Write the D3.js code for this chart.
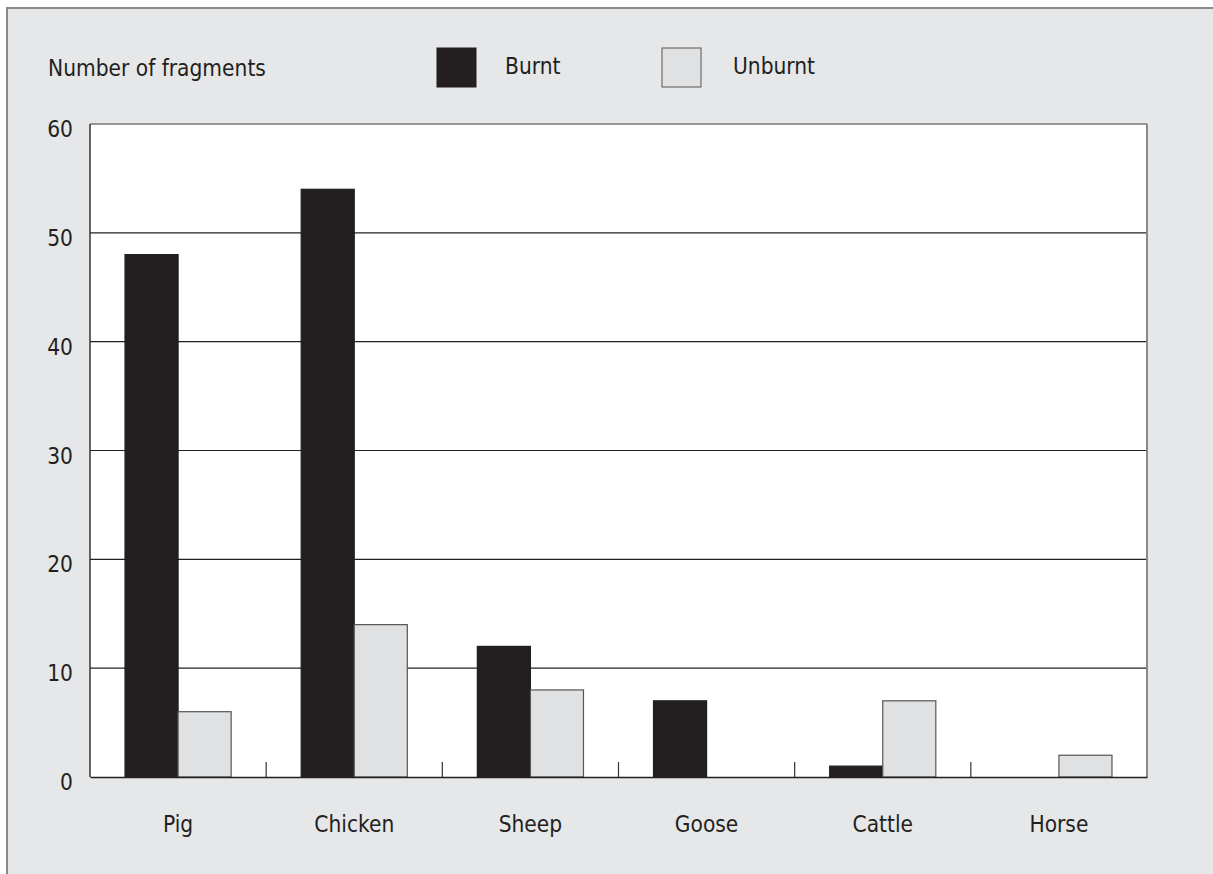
<!DOCTYPE html>
<html><head><meta charset="utf-8">
<script src="https://cdn.jsdelivr.net/npm/d3@7"></script>
<style>
html,body{margin:0;padding:0;background:#fff;}
svg{display:block;}
text{font-family:"DejaVu Sans Condensed","DejaVu Sans",sans-serif;fill:#231f20;}
</style></head><body>
<svg id="c" width="1213" height="874"></svg>
<script>
const categories = ["Pig","Chicken","Sheep","Goose","Cattle","Horse"];
const seriesNames = ["Burnt","Unburnt"];
const burnt = [48,54,12,7,1,0];
const unburnt = [6,14,8,0,7,2];
const yTicks = [0,10,20,30,40,50,60];
const yLabel = "Number of fragments";

const colors = {Burnt:"#231f20", Unburnt:"#e0e1e3"};
const FS = 22.5;
const W=1213,H=874;
const m={left:90,right:1147,top:124,bottom:777};
const svg=d3.select("#c");
svg.append("rect").attr("x",7).attr("y",8).attr("width",W).attr("height",H)
  .attr("fill","#e6e7e9").attr("stroke","#8a8a8a").attr("stroke-width",2);
svg.append("rect").attr("x",m.left).attr("y",m.top).attr("width",m.right-m.left).attr("height",m.bottom-m.top)
  .attr("fill","#fff");

const x=d3.scaleBand().domain(categories).range([m.left,m.right]);
const xs=d3.scaleBand().domain(seriesNames).range([0,x.bandwidth()]).paddingOuter(0.66).paddingInner(0);
const y=d3.scaleLinear().domain([0,60]).range([m.bottom,m.top]);

// grid
svg.append("g").selectAll("line").data(yTicks.filter(d=>d>0&&d<60)).join("line")
  .attr("x1",m.left).attr("x2",m.right).attr("y1",d=>y(d)).attr("y2",d=>y(d))
  .attr("stroke","#231f20").attr("stroke-width",1.2);

// bars
const data=categories.map((c,i)=>({c,vals:[{k:"Burnt",v:burnt[i]},{k:"Unburnt",v:unburnt[i]}]}));
const g=svg.append("g").selectAll("g").data(data).join("g").attr("transform",d=>`translate(${x(d.c)},0)`);
g.selectAll("rect").data(d=>d.vals.filter(e=>e.v>0)).join("rect")
  .attr("x",d=>xs(d.k)).attr("width",xs.bandwidth())
  .attr("y",d=>y(d.v)).attr("height",d=>y(0)-y(d.v))
  .attr("fill",d=>colors[d.k])
  .attr("stroke",d=>d.k==="Burnt"?"#231f20":"#555")
  .attr("stroke-width",1.2);

// frame of plot
svg.append("line").attr("x1",m.left).attr("x2",m.right).attr("y1",m.top).attr("y2",m.top).attr("stroke","#777").attr("stroke-width",1.5);
svg.append("line").attr("x1",m.right).attr("x2",m.right).attr("y1",m.top).attr("y2",m.bottom).attr("stroke","#888").attr("stroke-width",2);
svg.append("line").attr("x1",m.left).attr("x2",m.left).attr("y1",m.top).attr("y2",m.bottom).attr("stroke","#333").attr("stroke-width",1.5);

// x axis
const xAxis=d3.axisBottom(x).tickSize(0);
const xa=svg.append("g").attr("transform",`translate(0,${m.bottom})`).call(xAxis);
xa.select(".domain").attr("stroke","#231f20").attr("stroke-width",1.5);
xa.selectAll("text").attr("font-size",FS).attr("font-family","DejaVu Sans Condensed").attr("fill","#231f20")
  .attr("y",55).attr("dy",0);
// separator ticks
svg.append("g").selectAll("line").data(categories.slice(1)).join("line")
  .attr("x1",d=>x(d)).attr("x2",d=>x(d)).attr("y1",m.bottom).attr("y2",m.bottom-15)
  .attr("stroke","#333").attr("stroke-width",1.2);

// y axis
const yAxis=d3.axisLeft(y).tickValues(yTicks).tickSize(0).tickPadding(17);
const ya=svg.append("g").attr("transform",`translate(${m.left},0)`).call(yAxis);
ya.select(".domain").remove();
ya.selectAll("text").attr("font-size",FS).attr("font-family","DejaVu Sans Condensed").attr("fill","#231f20").attr("dy","12.5px");

svg.append("text").attr("x",48).attr("y",76).attr("font-size",FS).text(yLabel);

// legend
const lg=[{k:"Burnt",x:437,tx:505},{k:"Unburnt",x:662,tx:733}];
lg.forEach(l=>{
  svg.append("rect").attr("x",l.x).attr("y",48).attr("width",39).attr("height",39)
    .attr("fill",colors[l.k]).attr("stroke",l.k==="Burnt"?"#231f20":"#555").attr("stroke-width",1);
  svg.append("text").attr("x",l.tx).attr("y",74).attr("font-size",FS).text(l.k);
});
</script></body></html>
